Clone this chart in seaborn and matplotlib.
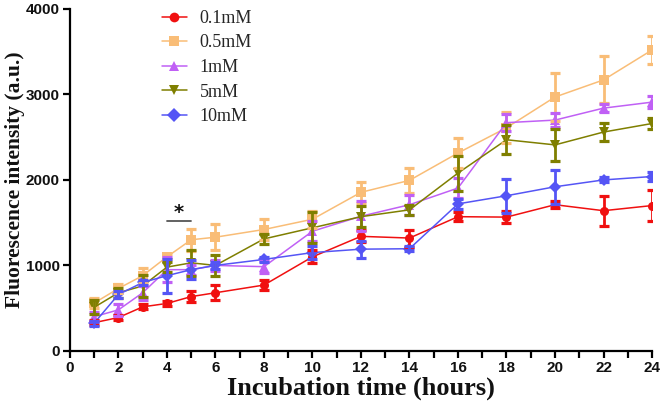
import numpy as np
import pandas as pd
import matplotlib
matplotlib.use("Agg")
import matplotlib.pyplot as plt
import seaborn as sns

hours = [1, 2, 3, 4, 5, 6, 8, 10, 12, 14, 16, 18, 20, 22, 24]
series_names = ["0.1mM", "0.5mM", "1mM", "5mM", "10mM"]

mean_01 = [330, 390, 515, 555, 635, 680, 770, 1100, 1340, 1320, 1570, 1565, 1710, 1640, 1700]
err_01 = [30, 30, 30, 30, 65, 90, 60, 75, 70, 100, 50, 70, 40, 175, 185]

mean_05 = [560, 730, 880, 1100, 1300, 1330, 1420, 1540, 1855, 1995, 2315, 2610, 2970, 3170, 3520]
err_05 = [60, 50, 90, 30, 130, 150, 120, 100, 120, 145, 180, 180, 285, 275, 160]

mean_1 = [400, 480, 680, 950, 950, 1000, 985, 1400, 1575, 1710, 1905, 2670, 2700, 2840, 2910]
err_1 = [50, 70, 80, 150, 60, 60, 70, 120, 175, 115, 120, 100, 80, 50, 70]

mean_5 = [510, 680, 760, 980, 1030, 1000, 1310, 1440, 1570, 1650, 2080, 2470, 2410, 2560, 2660]
err_5 = [80, 60, 130, 60, 150, 120, 60, 180, 120, 60, 205, 170, 190, 110, 60]

mean_10 = [325, 660, 800, 880, 950, 1000, 1070, 1150, 1190, 1195, 1720, 1815, 1920, 2000, 2040]
err_10 = [30, 40, 30, 200, 110, 40, 30, 80, 100, 30, 60, 200, 200, 30, 50]

colors = ["#F01010", "#F9BD77", "#C060F5", "#7F7F00", "#5555F5"]
markers = ["o", "s", "^", "v", "D"]

means = [mean_01, mean_05, mean_1, mean_5, mean_10]
errs = [err_01, err_05, err_1, err_5, err_10]

rows = []
for name, m, e in zip(series_names, means, errs):
    for t, v, s in zip(hours, m, e):
        rows.append({"time": t, "value": v, "err": s, "conc": name})
df = pd.DataFrame(rows)

sns.set_theme(style="ticks")
fig = plt.figure(figsize=(6.66, 4.08), dpi=100)
ax = fig.add_axes([0.105, 0.14, 0.874, 0.838])

palette = dict(zip(series_names, colors))
mk = dict(zip(series_names, markers))

sns.lineplot(data=df, x="time", y="value", hue="conc", style="conc",
             hue_order=series_names, style_order=series_names,
             palette=palette, markers=mk, dashes=False, markersize=6.5,
             markeredgewidth=0, linewidth=1.1, ax=ax, legend=True, zorder=3)

for name, c in zip(series_names, colors):
    sub = df[df["conc"] == name]
    ax.errorbar(sub["time"], sub["value"], yerr=sub["err"], fmt="none",
                ecolor=c, elinewidth=2.0, capsize=3.8, capthick=2.3, zorder=4)

# significance annotation
ax.plot([4, 5], [1520, 1520], color="#555555", lw=1.3)
ax.text(4.5, 1510, "*", ha="center", va="bottom", fontsize=14,
        fontweight="bold", color="#111111")

ax.set_xlim(0, 24)
ax.set_ylim(0, 4000)
ax.set_xticks(range(0, 25, 2))
ax.set_xticks(range(1, 25, 2), minor=True)
ax.set_yticks(range(0, 4001, 1000))

for s in ["top", "right"]:
    ax.spines[s].set_visible(False)
for s in ["left", "bottom"]:
    ax.spines[s].set_linewidth(1.6)
    ax.spines[s].set_color("black")
ax.tick_params(axis="both", which="both", direction="out", length=5,
               width=1.6, color="black", pad=2.5)
for lab in ax.get_xticklabels() + ax.get_yticklabels():
    lab.set_fontfamily("Liberation Sans")
    lab.set_fontweight("bold")
    lab.set_fontsize(11)
    lab.set_color("#111111")

ax.set_xlabel("Incubation time (hours)", fontfamily="Liberation Serif",
              fontweight="bold", fontsize=19, labelpad=1, color="#111111")
ax.set_ylabel("Fluorescence intensity (a.u.)", fontfamily="Liberation Serif",
              fontweight="bold", fontsize=15.5, color="#111111")
ax.yaxis.set_label_coords(-0.077, 0.5)

leg = ax.legend(loc="upper left", bbox_to_anchor=(0.13, 1.045), frameon=False,
                prop={"family": "Liberation Serif", "size": 13},
                handlelength=1.4, labelspacing=0.42, handletextpad=0.7)
for h in leg.legend_handles:
    h.set_markersize(7)

fig.savefig("out.png", dpi=100)
